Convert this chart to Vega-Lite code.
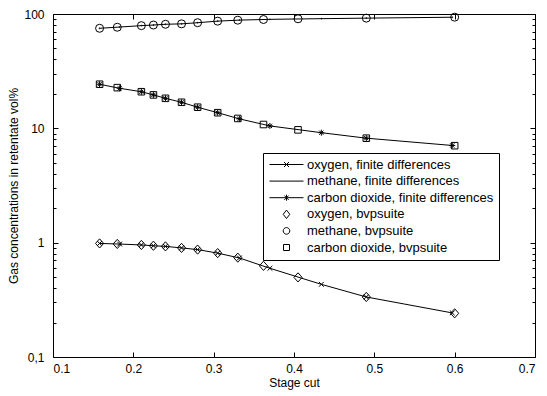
{
  "$schema": "https://vega.github.io/schema/vega-lite/v6.json",
  "width": 482,
  "height": 343,
  "autosize": {"type": "none"},
  "padding": {"left": 53, "top": 14, "right": 12, "bottom": 39},
  "background": "white",
  "config": {
    "view": {"stroke": "black", "strokeWidth": 1},
    "font": "Liberation Sans",
    "axis": {
      "domain": false,
      "grid": false,
      "ticks": true,
      "tickColor": "black",
      "tickOpacity": 1,
      "tickWidth": 1,
      "labelColor": "black",
      "labelFont": "Liberation Sans",
      "labelFontSize": 12,
      "titleFont": "Liberation Sans",
      "titleFontSize": 12,
      "titleFontWeight": "normal",
      "titleColor": "black"
    }
  },
  "datasets": {
    "d": [
      {"m": "bvp", "gas": "oxygen", "series": "oxygen, bvpsuite", "x": 0.158, "y": 0.985},
      {"m": "bvp", "gas": "oxygen", "series": "oxygen, bvpsuite", "x": 0.18, "y": 0.975},
      {"m": "bvp", "gas": "oxygen", "series": "oxygen, bvpsuite", "x": 0.21, "y": 0.955},
      {"m": "bvp", "gas": "oxygen", "series": "oxygen, bvpsuite", "x": 0.225, "y": 0.94},
      {"m": "bvp", "gas": "oxygen", "series": "oxygen, bvpsuite", "x": 0.24, "y": 0.928},
      {"m": "bvp", "gas": "oxygen", "series": "oxygen, bvpsuite", "x": 0.26, "y": 0.9},
      {"m": "bvp", "gas": "oxygen", "series": "oxygen, bvpsuite", "x": 0.28, "y": 0.87},
      {"m": "bvp", "gas": "oxygen", "series": "oxygen, bvpsuite", "x": 0.305, "y": 0.81},
      {"m": "bvp", "gas": "oxygen", "series": "oxygen, bvpsuite", "x": 0.33, "y": 0.74},
      {"m": "bvp", "gas": "oxygen", "series": "oxygen, bvpsuite", "x": 0.362, "y": 0.627},
      {"m": "bvp", "gas": "oxygen", "series": "oxygen, bvpsuite", "x": 0.405, "y": 0.497},
      {"m": "bvp", "gas": "oxygen", "series": "oxygen, bvpsuite", "x": 0.49, "y": 0.335},
      {"m": "bvp", "gas": "oxygen", "series": "oxygen, bvpsuite", "x": 0.6, "y": 0.241},
      {"m": "bvp", "gas": "methane", "series": "methane, bvpsuite", "x": 0.158, "y": 75.0},
      {"m": "bvp", "gas": "methane", "series": "methane, bvpsuite", "x": 0.18, "y": 76.6},
      {"m": "bvp", "gas": "methane", "series": "methane, bvpsuite", "x": 0.21, "y": 79.1},
      {"m": "bvp", "gas": "methane", "series": "methane, bvpsuite", "x": 0.225, "y": 80.1},
      {"m": "bvp", "gas": "methane", "series": "methane, bvpsuite", "x": 0.24, "y": 81.3},
      {"m": "bvp", "gas": "methane", "series": "methane, bvpsuite", "x": 0.26, "y": 82.0},
      {"m": "bvp", "gas": "methane", "series": "methane, bvpsuite", "x": 0.28, "y": 83.9},
      {"m": "bvp", "gas": "methane", "series": "methane, bvpsuite", "x": 0.305, "y": 86.6},
      {"m": "bvp", "gas": "methane", "series": "methane, bvpsuite", "x": 0.33, "y": 88.3},
      {"m": "bvp", "gas": "methane", "series": "methane, bvpsuite", "x": 0.362, "y": 89.5},
      {"m": "bvp", "gas": "methane", "series": "methane, bvpsuite", "x": 0.405, "y": 90.8},
      {"m": "bvp", "gas": "methane", "series": "methane, bvpsuite", "x": 0.49, "y": 92.0},
      {"m": "bvp", "gas": "methane", "series": "methane, bvpsuite", "x": 0.6, "y": 93.8},
      {"m": "bvp", "gas": "carbon dioxide", "series": "carbon dioxide, bvpsuite", "x": 0.158, "y": 24.3},
      {"m": "bvp", "gas": "carbon dioxide", "series": "carbon dioxide, bvpsuite", "x": 0.18, "y": 22.7},
      {"m": "bvp", "gas": "carbon dioxide", "series": "carbon dioxide, bvpsuite", "x": 0.21, "y": 20.9},
      {"m": "bvp", "gas": "carbon dioxide", "series": "carbon dioxide, bvpsuite", "x": 0.225, "y": 19.6},
      {"m": "bvp", "gas": "carbon dioxide", "series": "carbon dioxide, bvpsuite", "x": 0.24, "y": 18.3},
      {"m": "bvp", "gas": "carbon dioxide", "series": "carbon dioxide, bvpsuite", "x": 0.26, "y": 16.9},
      {"m": "bvp", "gas": "carbon dioxide", "series": "carbon dioxide, bvpsuite", "x": 0.28, "y": 15.3},
      {"m": "bvp", "gas": "carbon dioxide", "series": "carbon dioxide, bvpsuite", "x": 0.305, "y": 13.7},
      {"m": "bvp", "gas": "carbon dioxide", "series": "carbon dioxide, bvpsuite", "x": 0.33, "y": 12.2},
      {"m": "bvp", "gas": "carbon dioxide", "series": "carbon dioxide, bvpsuite", "x": 0.362, "y": 10.8},
      {"m": "bvp", "gas": "carbon dioxide", "series": "carbon dioxide, bvpsuite", "x": 0.405, "y": 9.7},
      {"m": "bvp", "gas": "carbon dioxide", "series": "carbon dioxide, bvpsuite", "x": 0.49, "y": 8.2},
      {"m": "bvp", "gas": "carbon dioxide", "series": "carbon dioxide, bvpsuite", "x": 0.6, "y": 7.05},
      {"m": "fd", "gas": "oxygen", "series": "oxygen, finite differences", "x": 0.158, "y": 0.985},
      {"m": "fd", "gas": "oxygen", "series": "oxygen, finite differences", "x": 0.183, "y": 0.972},
      {"m": "fd", "gas": "oxygen", "series": "oxygen, finite differences", "x": 0.21, "y": 0.955},
      {"m": "fd", "gas": "oxygen", "series": "oxygen, finite differences", "x": 0.225, "y": 0.94},
      {"m": "fd", "gas": "oxygen", "series": "oxygen, finite differences", "x": 0.24, "y": 0.928},
      {"m": "fd", "gas": "oxygen", "series": "oxygen, finite differences", "x": 0.26, "y": 0.9},
      {"m": "fd", "gas": "oxygen", "series": "oxygen, finite differences", "x": 0.28, "y": 0.87},
      {"m": "fd", "gas": "oxygen", "series": "oxygen, finite differences", "x": 0.305, "y": 0.81},
      {"m": "fd", "gas": "oxygen", "series": "oxygen, finite differences", "x": 0.332, "y": 0.735},
      {"m": "fd", "gas": "oxygen", "series": "oxygen, finite differences", "x": 0.37, "y": 0.597},
      {"m": "fd", "gas": "oxygen", "series": "oxygen, finite differences", "x": 0.434, "y": 0.432},
      {"m": "fd", "gas": "oxygen", "series": "oxygen, finite differences", "x": 0.49, "y": 0.335},
      {"m": "fd", "gas": "oxygen", "series": "oxygen, finite differences", "x": 0.597, "y": 0.243},
      {"m": "fd", "gas": "methane", "series": "methane, finite differences", "x": 0.158, "y": 75.0},
      {"m": "fd", "gas": "methane", "series": "methane, finite differences", "x": 0.183, "y": 76.9},
      {"m": "fd", "gas": "methane", "series": "methane, finite differences", "x": 0.21, "y": 79.1},
      {"m": "fd", "gas": "methane", "series": "methane, finite differences", "x": 0.225, "y": 80.1},
      {"m": "fd", "gas": "methane", "series": "methane, finite differences", "x": 0.24, "y": 81.3},
      {"m": "fd", "gas": "methane", "series": "methane, finite differences", "x": 0.26, "y": 82.0},
      {"m": "fd", "gas": "methane", "series": "methane, finite differences", "x": 0.28, "y": 83.9},
      {"m": "fd", "gas": "methane", "series": "methane, finite differences", "x": 0.305, "y": 86.6},
      {"m": "fd", "gas": "methane", "series": "methane, finite differences", "x": 0.332, "y": 88.4},
      {"m": "fd", "gas": "methane", "series": "methane, finite differences", "x": 0.37, "y": 89.8},
      {"m": "fd", "gas": "methane", "series": "methane, finite differences", "x": 0.434, "y": 91.0},
      {"m": "fd", "gas": "methane", "series": "methane, finite differences", "x": 0.49, "y": 92.0},
      {"m": "fd", "gas": "methane", "series": "methane, finite differences", "x": 0.597, "y": 93.7},
      {"m": "fd", "gas": "carbon dioxide", "series": "carbon dioxide, finite differences", "x": 0.158, "y": 24.3},
      {"m": "fd", "gas": "carbon dioxide", "series": "carbon dioxide, finite differences", "x": 0.183, "y": 22.4},
      {"m": "fd", "gas": "carbon dioxide", "series": "carbon dioxide, finite differences", "x": 0.21, "y": 20.9},
      {"m": "fd", "gas": "carbon dioxide", "series": "carbon dioxide, finite differences", "x": 0.225, "y": 19.6},
      {"m": "fd", "gas": "carbon dioxide", "series": "carbon dioxide, finite differences", "x": 0.24, "y": 18.3},
      {"m": "fd", "gas": "carbon dioxide", "series": "carbon dioxide, finite differences", "x": 0.26, "y": 16.9},
      {"m": "fd", "gas": "carbon dioxide", "series": "carbon dioxide, finite differences", "x": 0.28, "y": 15.3},
      {"m": "fd", "gas": "carbon dioxide", "series": "carbon dioxide, finite differences", "x": 0.305, "y": 13.7},
      {"m": "fd", "gas": "carbon dioxide", "series": "carbon dioxide, finite differences", "x": 0.332, "y": 12.1},
      {"m": "fd", "gas": "carbon dioxide", "series": "carbon dioxide, finite differences", "x": 0.37, "y": 10.5},
      {"m": "fd", "gas": "carbon dioxide", "series": "carbon dioxide, finite differences", "x": 0.434, "y": 9.16},
      {"m": "fd", "gas": "carbon dioxide", "series": "carbon dioxide, finite differences", "x": 0.49, "y": 8.2},
      {"m": "fd", "gas": "carbon dioxide", "series": "carbon dioxide, finite differences", "x": 0.597, "y": 7.08}
    ]
  },
  "data": {"name": "d"},
  "layer": [
    {
      "transform": [{"filter": "datum.m == 'fd'"}],
      "mark": {"type": "line", "color": "black", "strokeWidth": 1},
      "encoding": {
        "x": {
          "field": "x", "type": "quantitative",
          "scale": {"domain": [0.1, 0.7], "nice": false, "zero": false},
          "axis": {"orient": "bottom", "offset": -5, "values": [0.1, 0.2, 0.3, 0.4, 0.5, 0.6, 0.7], "format": ".1f", "tickSize": 5, "labelPadding": 6, "title": "Stage cut", "titlePadding": 3}
        },
        "y": {
          "field": "y", "type": "quantitative",
          "scale": {"type": "log", "domain": [0.1, 100], "nice": false},
          "axis": {"orient": "left", "offset": -5, "values": [0.1, 1, 10, 100], "format": "~g", "labelExpr": "datum.value < 0.5 ? '0,1' : datum.label", "tickSize": 5, "labelPadding": 9, "title": "Gas concentrations in retentate vol%", "titlePadding": 3}
        },
        "detail": {"field": "gas"}
      }
    },
    {
      "transform": [{"filter": "datum.m == 'fd'"}],
      "mark": {"type": "point", "filled": false, "color": "black", "strokeWidth": 1, "size": 36, "opacity": 1},
      "encoding": {
        "x": {
          "field": "x", "type": "quantitative",
          "scale": {"domain": [0.1, 0.7], "nice": false, "zero": false},
          "axis": {"orient": "top", "offset": -5, "values": [0.1, 0.2, 0.3, 0.4, 0.5, 0.6, 0.7], "tickSize": 5, "labels": false, "title": null}
        },
        "y": {
          "field": "y", "type": "quantitative",
          "scale": {"type": "log", "domain": [0.1, 100], "nice": false},
          "axis": {"orient": "right", "offset": -5, "values": [0.1, 1, 10, 100], "tickSize": 5, "labels": false, "title": null}
        },
        "shape": {
          "field": "series", "type": "nominal",
          "scale": {
            "domain": ["oxygen, finite differences", "methane, finite differences", "carbon dioxide, finite differences"],
            "range": ["M-0.8,-0.8L0.8,0.8M-0.8,0.8L0.8,-0.8", "M0.15,0A0.15,0.15,0,1,1,-0.15,0A0.15,0.15,0,1,1,0.15,0Z", "M-1,0L1,0M0,-1L0,1M-0.7,-0.7L0.7,0.7M-0.7,0.7L0.7,-0.7"]
          },
          "legend": null
        }
      }
    },
    {
      "transform": [{"filter": "datum.m == 'bvp'"}],
      "mark": {"type": "point", "filled": false, "color": "black", "strokeWidth": 1, "size": 64, "opacity": 1},
      "encoding": {
        "x": {
          "field": "x", "type": "quantitative",
          "scale": {"domain": [0.1, 0.7], "nice": false, "zero": false},
          "axis": null
        },
        "y": {
          "field": "y", "type": "quantitative",
          "scale": {"type": "log", "domain": [0.1, 100], "nice": false},
          "axis": {"orient": "left", "offset": -3, "values": [0.2, 0.3, 0.4, 0.5, 0.6, 0.7, 0.8, 0.9, 2, 3, 4, 5, 6, 7, 8, 9, 20, 30, 40, 50, 60, 70, 80, 90], "tickSize": 3, "labels": false, "title": null}
        },
        "shape": {
          "field": "series", "type": "nominal",
          "scale": {
            "domain": ["oxygen, bvpsuite", "methane, bvpsuite", "carbon dioxide, bvpsuite"],
            "range": ["M0,-1.15L1.02,0L0,1.15L-1.02,0Z", "circle", "M-0.82,-0.82L0.82,-0.82L0.82,0.82L-0.82,0.82Z"]
          },
          "legend": null
        }
      }
    },
    {
      "transform": [{"filter": "datum.x < 0"}],
      "mark": {"type": "point", "filled": false, "color": "black", "strokeWidth": 1, "opacity": 1},
      "encoding": {
        "x": {
          "field": "x", "type": "quantitative",
          "scale": {"domain": [0.1, 0.7], "nice": false, "zero": false},
          "axis": null
        },
        "y": {
          "field": "y", "type": "quantitative",
          "scale": {"type": "log", "domain": [0.1, 100], "nice": false},
          "axis": {"orient": "right", "offset": -3, "values": [0.2, 0.3, 0.4, 0.5, 0.6, 0.7, 0.8, 0.9, 2, 3, 4, 5, 6, 7, 8, 9, 20, 30, 40, 50, 60, 70, 80, 90], "tickSize": 3, "labels": false, "title": null}
        },
        "shape": {
          "field": "series", "type": "nominal",
          "scale": {
            "domain": ["oxygen, finite differences", "methane, finite differences", "carbon dioxide, finite differences", "oxygen, bvpsuite", "methane, bvpsuite", "carbon dioxide, bvpsuite"],
            "range": [
              "M-3.4,0L3.4,0M-0.5,-0.5L0.5,0.5M-0.5,0.5L0.5,-0.5",
              "M-3.4,0L3.4,0",
              "M-3.4,0L3.4,0M0,-0.6L0,0.6M-0.43,-0.43L0.43,0.43M-0.43,0.43L0.43,-0.43",
              "M0,-0.84L0.66,0L0,0.84L-0.66,0Z",
              "M0.66,0A0.66,0.66,0,1,1,-0.66,0A0.66,0.66,0,1,1,0.66,0Z",
              "M-0.6,-0.6L0.6,-0.6L0.6,0.6L-0.6,0.6Z"
            ]
          },
          "legend": {
            "title": null,
            "orient": "none",
            "legendX": 210,
            "legendY": 139,
            "padding": 5,
            "strokeColor": "black",
            "fillColor": "white",
            "symbolSize": 100,
            "symbolOffset": 12,
            "symbolStrokeColor": "black",
            "symbolFillColor": "transparent",
            "symbolStrokeWidth": 1,
            "labelFont": "Liberation Sans",
            "labelFontSize": 13,
            "labelColor": "black",
            "labelOffset": 14,
            "labelLimit": 300,
            "labelExpr": "datum.label + '          '",
            "rowPadding": 2.6
          }
        }
      }
    }
  ],
  "resolve": {
    "scale": {"shape": "independent"},
    "axis": {"x": "independent", "y": "independent"}
  }
}
